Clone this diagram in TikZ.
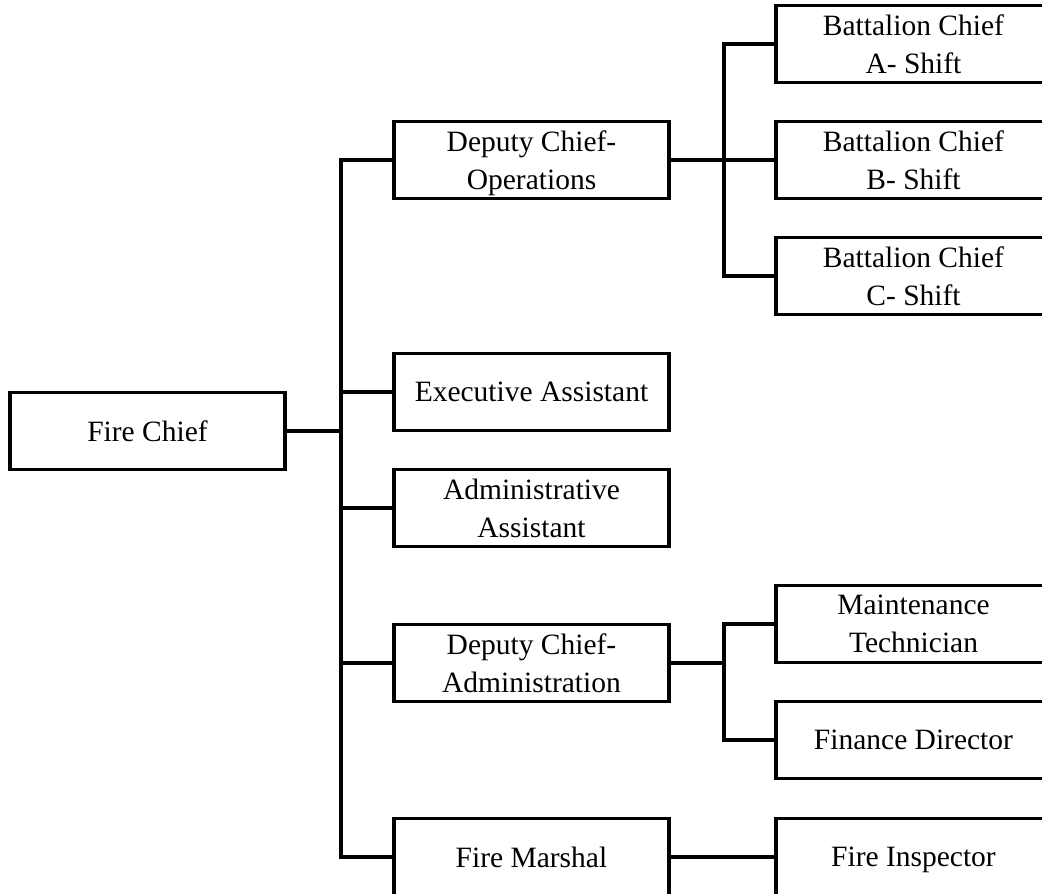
\documentclass[tikz,border=0pt]{standalone}
\usepackage{fontspec}
\setmainfont{Liberation Serif}
\tikzstyle{post} = [rectangle, minimum width=275pt, minimum height=77pt, text centered, align=center, text depth=0pt, draw=black, line width=3.8pt, font=\fontsize{29.5}{38}\selectfont]
\tikzstyle{link} = [line width=3.8pt]

\begin{document}
\begin{tikzpicture}[node distance=116pt]
\useasboundingbox (-147.5pt,431pt) rectangle (894.5pt,-463pt);
\node (chief) [post] {Fire Chief};
\node (exec) [post, right of=chief, xshift=268pt, yshift=39pt] {Executive Assistant};
\node (ops) [post, above of=exec, yshift=116pt] {Deputy Chief-\\Operations};
\node (admin) [post, below of=exec] {Administrative\\Assistant};
\node (dadm) [post, below of=admin, yshift=-39pt] {Deputy Chief-\\Administration};
\node (marshal) [post, below of=dadm, yshift=-78pt] {Fire Marshal};
\node (battB) [post, right of=ops, xshift=266pt] {Battalion Chief\\B- Shift};
\node (battA) [post, above of=battB] {Battalion Chief\\A- Shift};
\node (battC) [post, below of=battB] {Battalion Chief\\C- Shift};
\node (maint) [post, right of=dadm, xshift=266pt, yshift=39pt] {Maintenance\\Technician};
\node (fin) [post, below of=maint] {Finance Director};
\node (insp) [post, right of=marshal, xshift=266pt] {Fire Inspector};
%% junctions
\coordinate (trunk) at ([xshift=54pt]chief.east);
\coordinate (opsjoin) at ([xshift=53pt]ops.east);
\coordinate (dadmjoin) at ([xshift=53pt]dadm.east);
\draw [link] (chief.east) -- (trunk);
\draw [link] (trunk) |- (ops.west);
\draw [link] (trunk) |- (exec.west);
\draw [link] (trunk) |- (admin.west);
\draw [link] (trunk) |- (dadm.west);
\draw [link] (trunk) |- (marshal.west);
\draw [link] (ops.east) -- (opsjoin);
\draw [link] (opsjoin) |- (battA.west);
\draw [link] (opsjoin) |- (battB.west);
\draw [link] (opsjoin) |- (battC.west);
\draw [link] (dadm.east) -- (dadmjoin);
\draw [link] (dadmjoin) |- (maint.west);
\draw [link] (dadmjoin) |- (fin.west);
\draw [link] (marshal.east) -- (insp.west);
\end{tikzpicture}
\end{document}
